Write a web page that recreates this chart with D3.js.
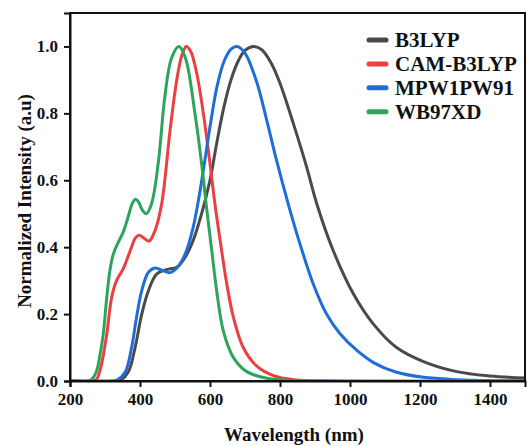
<!DOCTYPE html>
<html>
<head>
<meta charset="utf-8">
<script src="https://cdn.jsdelivr.net/npm/d3@7"></script>
<style>
  body { margin: 0; background: #fff; }
  svg text { font-family: "Liberation Serif", "Times New Roman", serif; font-weight: bold; }
</style>
</head>
<body>
<svg width="527" height="446"></svg>
<script>
// Series names and colours
const seriesNames = ["B3LYP", "CAM-B3LYP", "MPW1PW91", "WB97XD"];
const seriesColors = ["#4a4a4a", "#ec3f3f", "#1f6ddb", "#2ea35c"];

// Tick values
const xTicks = [200, 400, 600, 800, 1000, 1200, 1400];
const yTicks = [0.0, 0.2, 0.4, 0.6, 0.8, 1.0];

// Spectra: [wavelength nm, normalized intensity]
const b3lyp = [
  [200, 0], [330, 0], [343, 0.002], [367, 0.028], [386, 0.1], [405, 0.2], [424, 0.27],
  [448, 0.32], [476, 0.333], [505, 0.34], [529, 0.37], [552, 0.42], [576, 0.5],
  [600, 0.6], [619, 0.71], [640, 0.82], [660, 0.9], [680, 0.955], [700, 0.988],
  [724, 1.0], [748, 0.99], [775, 0.95], [800, 0.89], [838, 0.77], [876, 0.64], [905, 0.53],
  [952, 0.39], [1010, 0.26], [1067, 0.17], [1133, 0.1], [1210, 0.058], [1305, 0.028],
  [1400, 0.015], [1500, 0.009]
];
const camB3lyp = [
  [200, 0], [265, 0], [276, 0.005], [290, 0.05], [305, 0.14], [319, 0.25], [333, 0.3],
  [352, 0.335], [374, 0.395], [387, 0.428], [398, 0.436], [410, 0.428], [426, 0.418],
  [443, 0.45], [462, 0.53], [486, 0.75], [505, 0.9], [520, 0.975], [532, 1.0], [545, 0.985],
  [562, 0.92], [581, 0.8], [600, 0.65], [614, 0.53], [629, 0.42], [648, 0.29],
  [667, 0.19], [695, 0.1], [733, 0.045], [781, 0.016], [840, 0.004], [950, 0], [1500, 0]
];
const mpw1pw91 = [
  [200, 0], [320, 0], [333, 0.002], [357, 0.025], [376, 0.1], [390, 0.19], [405, 0.27],
  [424, 0.325], [443, 0.338], [465, 0.33], [486, 0.324], [509, 0.342], [533, 0.39],
  [552, 0.46], [567, 0.54], [581, 0.63], [600, 0.76], [620, 0.88], [640, 0.955],
  [660, 0.992], [678, 1.0], [700, 0.98], [733, 0.895], [762, 0.78], [790, 0.66],
  [826, 0.52], [857, 0.41], [895, 0.29], [933, 0.2], [971, 0.142], [1019, 0.092],
  [1067, 0.055], [1133, 0.026], [1210, 0.011], [1305, 0.004], [1400, 0.001], [1500, 0]
];
const wb97xd = [
  [200, 0], [250, 0], [262, 0.005], [276, 0.03], [286, 0.08], [295, 0.14], [305, 0.25],
  [314, 0.33], [324, 0.38], [338, 0.415], [352, 0.445], [366, 0.49], [377, 0.528],
  [387, 0.543], [396, 0.535], [406, 0.512], [418, 0.5], [433, 0.53], [452, 0.65],
  [471, 0.85], [490, 0.965], [511, 1.0], [530, 0.965], [557, 0.8], [576, 0.65],
  [590, 0.52], [605, 0.39], [619, 0.27], [638, 0.15], [667, 0.07], [705, 0.028],
  [762, 0.008], [820, 0.002], [900, 0], [1500, 0]
];
const seriesData = [b3lyp, camB3lyp, mpw1pw91, wb97xd];

const svg = d3.select("svg"),
  width = +svg.attr("width"),
  height = +svg.attr("height"),
  margin = { top: 13, right: 2, bottom: 65, left: 70 };

// scales
const x = d3.scaleLinear().domain([200, 1500]).range([margin.left, width - margin.right]);
const y = d3.scaleLinear().domain([0, 1.1]).range([height - margin.bottom, margin.top]);

// clip so the lines stay inside the frame
svg.append("clipPath").attr("id", "plot-clip")
  .append("rect")
  .attr("x", margin.left).attr("y", margin.top)
  .attr("width", width - margin.left - margin.right)
  .attr("height", height - margin.top - margin.bottom);

const line = d3.line()
  .x((d) => x(d[0]))
  .y((d) => y(d[1]))
  .curve(d3.curveCatmullRom.alpha(0.5));

// spectra
svg.append("g")
  .attr("clip-path", "url(#plot-clip)")
  .selectAll("path")
  .data(seriesData)
  .join("path")
  .attr("d", line)
  .attr("fill", "none")
  .attr("stroke", (d, i) => seriesColors[i])
  .attr("stroke-width", 3)
  .attr("stroke-linejoin", "round");

// frame
svg.append("rect")
  .attr("x", margin.left).attr("y", margin.top)
  .attr("width", width - margin.left - margin.right)
  .attr("height", height - margin.top - margin.bottom)
  .attr("fill", "none")
  .attr("stroke", "#111")
  .attr("stroke-width", 2);

// x axis
const xAxis = svg.append("g")
  .attr("transform", `translate(0,${height - margin.bottom})`)
  .call(d3.axisBottom(x).tickValues(xTicks).tickSize(6).tickPadding(6).tickFormat(d3.format("d")));

// y axis
const yAxis = svg.append("g")
  .attr("transform", `translate(${margin.left},0)`)
  .call(d3.axisLeft(y).tickValues(yTicks).tickSize(6).tickPadding(6).tickFormat(d3.format(".1f")));

[xAxis, yAxis].forEach((g) => {
  g.select(".domain").attr("stroke", "#111").attr("stroke-width", 2);
  g.selectAll(".tick line").attr("stroke", "#111").attr("stroke-width", 2);
  g.selectAll(".tick text")
    .attr("fill", "#111")
    .style("font-size", "17px")
    .style("font-family", '"Liberation Serif", serif')
    .style("font-weight", "bold");
});

// axis titles
svg.append("text")
  .attr("x", 294)
  .attr("y", 441)
  .attr("text-anchor", "middle")
  .attr("fill", "#111")
  .style("font-size", "19px")
  .text("Wavelength (nm)");

svg.append("text")
  .attr("transform", "translate(31,201) rotate(-90)")
  .attr("text-anchor", "middle")
  .attr("fill", "#111")
  .style("font-size", "19px")
  .text("Normalized Intensity (a.u)");

// legend
const legend = svg.append("g").attr("transform", "translate(367,40)");
const rows = legend.selectAll("g")
  .data(seriesNames)
  .join("g")
  .attr("transform", (d, i) => `translate(0,${i * 23.9})`);

rows.append("line")
  .attr("x1", 2).attr("x2", 19)
  .attr("stroke", (d, i) => seriesColors[i])
  .attr("stroke-width", 5)
  .attr("stroke-linecap", "round");

rows.append("text")
  .attr("x", 28)
  .attr("dy", "0.34em")
  .attr("fill", "#111")
  .style("font-size", "21px")
  .text((d) => d);
</script>
</body>
</html>
